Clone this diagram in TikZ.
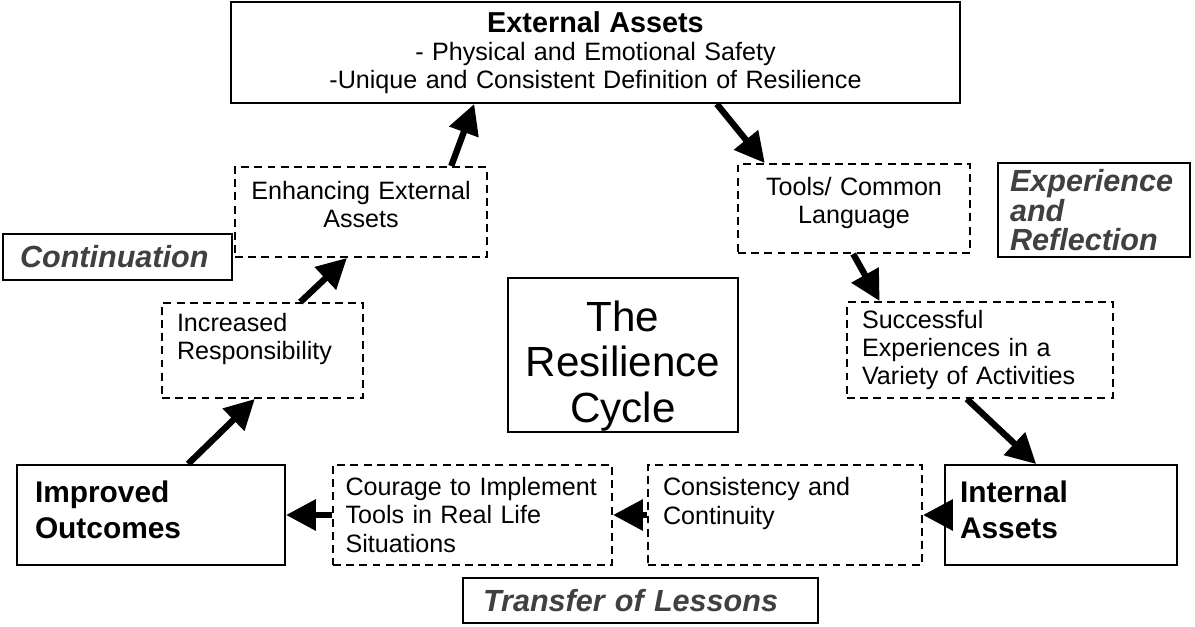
\documentclass[tikz,border=0pt]{standalone}
\usepackage{fontspec}
\setmainfont{Liberation Sans}
\usetikzlibrary{arrows.meta}

\begin{document}
\begin{tikzpicture}[
            solidbox/.style={
                rectangle,
                draw=black,
                line width=1.1pt,
                inner xsep=0.3cm,
                align=left,
                font=\fontsize{14.3}{16}\selectfont
            },
            dashbox/.style={
                solidbox,
                dash pattern=on 4.5pt off 3pt
            },
            bigbox/.style={
                solidbox,
                font=\bfseries\fontsize{17}{20.6}\selectfont
            },
            phase/.style={
                solidbox,
                inner ysep=1pt,
                text=black!75,
                font=\bfseries\itshape\fontsize{17.4}{16}\selectfont
            },
            arrow/.style={-{Triangle[length=17pt,width=17pt]}, line width=3.6pt}
        ]
        \useasboundingbox (0,0) rectangle (23.9,12.52);

        % Top box
        \node[solidbox, align=center, text width=13.98cm, minimum height=2.02cm] (ext) at (11.91,11.47)
            {\textbf{\fontsize{16.4}{16}\selectfont External Assets}\\- Physical and Emotional Safety\\-Unique and Consistent Definition of Resilience};

        % Left side of the cycle
        \node[dashbox, align=center, text width=4.44cm, minimum height=1.8cm] (enh) at (7.22,8.28) {Enhancing External\\Assets\rule[-9pt]{0pt}{9pt}};
        \node[dashbox, text width=3.42cm, minimum height=1.9cm] (incr) at (5.25,5.51) {Increased\\Responsibility\\~};
        \node[bigbox, inner xsep=0.36cm, text width=4.64cm, minimum height=2cm] (impr) at (3.02,2.22) {Improved\\Outcomes\rule[-6pt]{0pt}{6pt}};

        % Bottom row
        \node[dashbox, inner xsep=0.25cm, text width=5.08cm, minimum height=2cm] (cour) at (9.45,2.22) {Courage to Implement\\Tools in Real Life\\Situations};
        \node[dashbox, inner xsep=0.25cm, text width=4.98cm, minimum height=2cm] (cons) at (15.70,2.22) {\hspace{0.05cm}Consistency and\\\hspace{0.05cm}Continuity\\~};
        \node[bigbox, text width=4.04cm, minimum height=2cm] (intl) at (21.22,2.22) {Internal\\Assets\rule[-6pt]{0pt}{6pt}};

        % Right side of the cycle
        \node[dashbox, align=center, text width=4.04cm, minimum height=1.78cm] (tools) at (17.08,8.35) {Tools/ Common\\Language\rule[-9pt]{0pt}{9pt}};
        \node[dashbox, text width=4.72cm, minimum height=1.92cm] (succ) at (19.60,5.52) {Successful\\Experiences in a\\Variety of Activities};

        % Centre
        \node[solidbox, align=center, inner ysep=0pt, text width=4cm, minimum height=3.08cm, font=\fontsize{24}{26}\selectfont] (cycle) at (12.46,5.42) {\rule{0pt}{30pt}The\\Resilience\\Cycle};

        % Phase names
        \node[phase, inner xsep=0.34cm, text width=3.9cm, minimum height=0.92cm] (cont) at (2.35,7.38) {Continuation};
        \node[phase, inner xsep=0.24cm, text width=3.36cm, minimum height=1.88cm] (exp) at (21.88,8.32) {Experience\\and\\Reflection};
        \node[phase, inner xsep=0.4cm, text width=6.3cm, minimum height=0.9cm] (trans) at (12.81,0.51) {Transfer of Lessons};

        % Connecting arrows
        \draw[arrow] (enh.27) -- (ext.203);
        \draw[arrow] (ext.337) -- (tools.153);
        \draw[arrow] (tools.269) -- (succ.154);
        \draw[arrow] (succ.255) -- (intl.116);
        \draw[arrow] (intl.west) -- (cons.east);
        \draw[arrow] (cons.west) -- (cour.east);
        \draw[arrow] (cour.west) -- (impr.east);
        \draw[arrow] (impr.54) -- (incr.261);
        \draw[arrow] (incr.52) -- (enh.253);

        \end{tikzpicture}
\end{document}
